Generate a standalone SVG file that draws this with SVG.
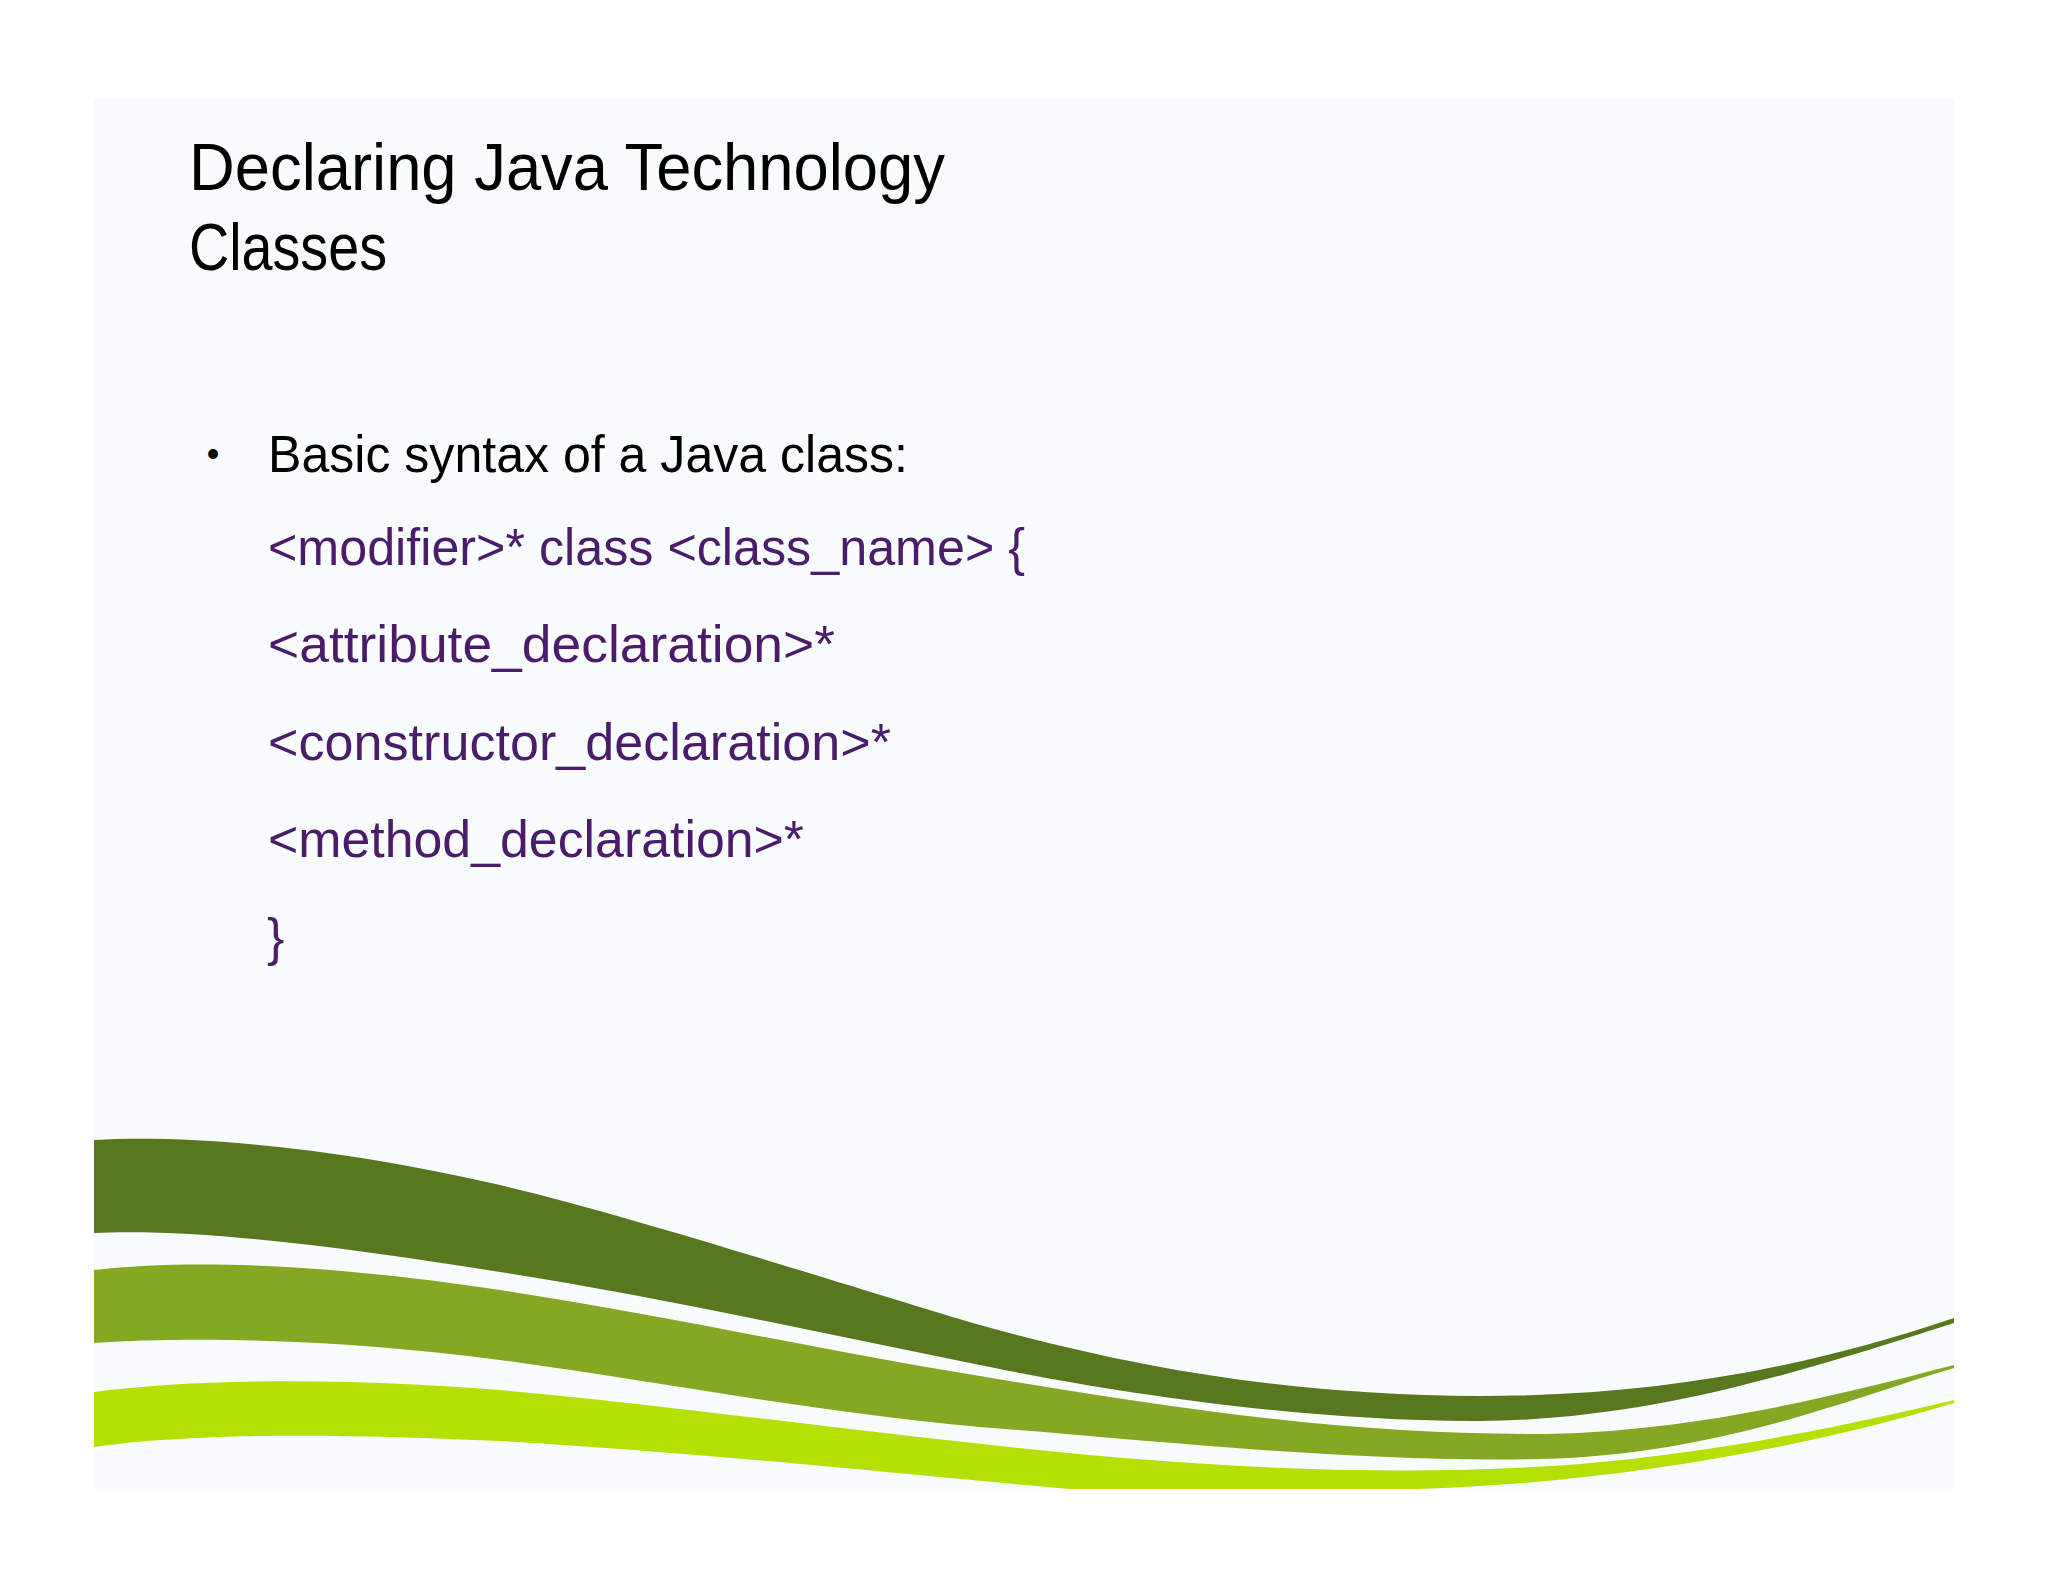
<svg xmlns="http://www.w3.org/2000/svg" width="2048" height="1582" viewBox="0 0 2048 1582">
  <defs>
    <style>
      .t { font-family: "Liberation Sans", Arial, sans-serif; }
      .title { font-size: 66px; fill: #000000; }
      .body { font-size: 52px; fill: #000000; }
      .code { font-size: 52px; fill: #4b1c6c; }
    </style>
    <clipPath id="panelClip">
      <rect x="93" y="98" width="1862" height="1391"/>
    </clipPath>
  </defs>
  <rect x="0" y="0" width="2048" height="1582" fill="#ffffff"/>
  <rect id="panel" x="93" y="98" width="1862" height="1391" fill="#f8fcfc"/>

  <g id="waves" clip-path="url(#panelClip)">
    <path id="wave-dark" fill="#58781f" d="M94,1140 C200,1134 350,1150 500,1185 C640,1218 850,1287 980,1325 C1150,1372 1300,1395 1480,1396 C1650,1396 1800,1370 1954,1318 L1954,1323 C1800,1372 1650,1420 1480,1421 C1300,1422 1100,1390 980,1365 C820,1333 650,1295 500,1272 C350,1248 200,1228 94,1233 Z"/>
    <path id="wave-mid" fill="#84a823" d="M94,1270 C200,1258 340,1266 500,1290 C680,1318 830,1352 980,1376 C1180,1410 1350,1434 1530,1434 C1680,1434 1820,1400 1954,1365 L1954,1368 C1860,1395 1720,1455 1540,1459 C1350,1463 1150,1440 980,1427 C800,1410 650,1380 500,1360 C350,1340 200,1336 94,1343 Z"/>
    <path id="wave-light" fill="#b5e003" d="M94,1392 C200,1378 350,1378 500,1390 C700,1408 950,1445 1150,1460 C1300,1472 1450,1474 1580,1464 C1720,1452 1850,1425 1954,1400 L1954,1403 C1800,1450 1600,1484 1417,1489 C1300,1494 1180,1498 1070,1489 C950,1479 700,1452 500,1441 C350,1434 200,1432 94,1447 Z"/>
  </g>

  <g id="title">
    <text class="t title" x="189" y="190" textLength="756" lengthAdjust="spacingAndGlyphs">Declaring Java Technology</text>
    <text class="t title" x="189" y="270" textLength="198" lengthAdjust="spacingAndGlyphs">Classes</text>
  </g>

  <g id="bullet-line">
    <text class="t" x="213" y="466" font-size="36" text-anchor="middle" fill="#000000">•</text>
    <text class="t body" x="268" y="472" textLength="640" lengthAdjust="spacingAndGlyphs">Basic syntax of a Java class:</text>
  </g>

  <g id="code">
    <text class="t code" x="268" y="565" textLength="757" lengthAdjust="spacingAndGlyphs">&lt;modifier&gt;* class &lt;class_name&gt; {</text>
    <text class="t code" x="268" y="662" textLength="567" lengthAdjust="spacingAndGlyphs">&lt;attribute_declaration&gt;*</text>
    <text class="t code" x="268" y="760" textLength="623" lengthAdjust="spacingAndGlyphs">&lt;constructor_declaration&gt;*</text>
    <text class="t code" x="268" y="857" textLength="536" lengthAdjust="spacingAndGlyphs">&lt;method_declaration&gt;*</text>
    <text class="t code" x="267" y="955">}</text>
  </g>
</svg>
